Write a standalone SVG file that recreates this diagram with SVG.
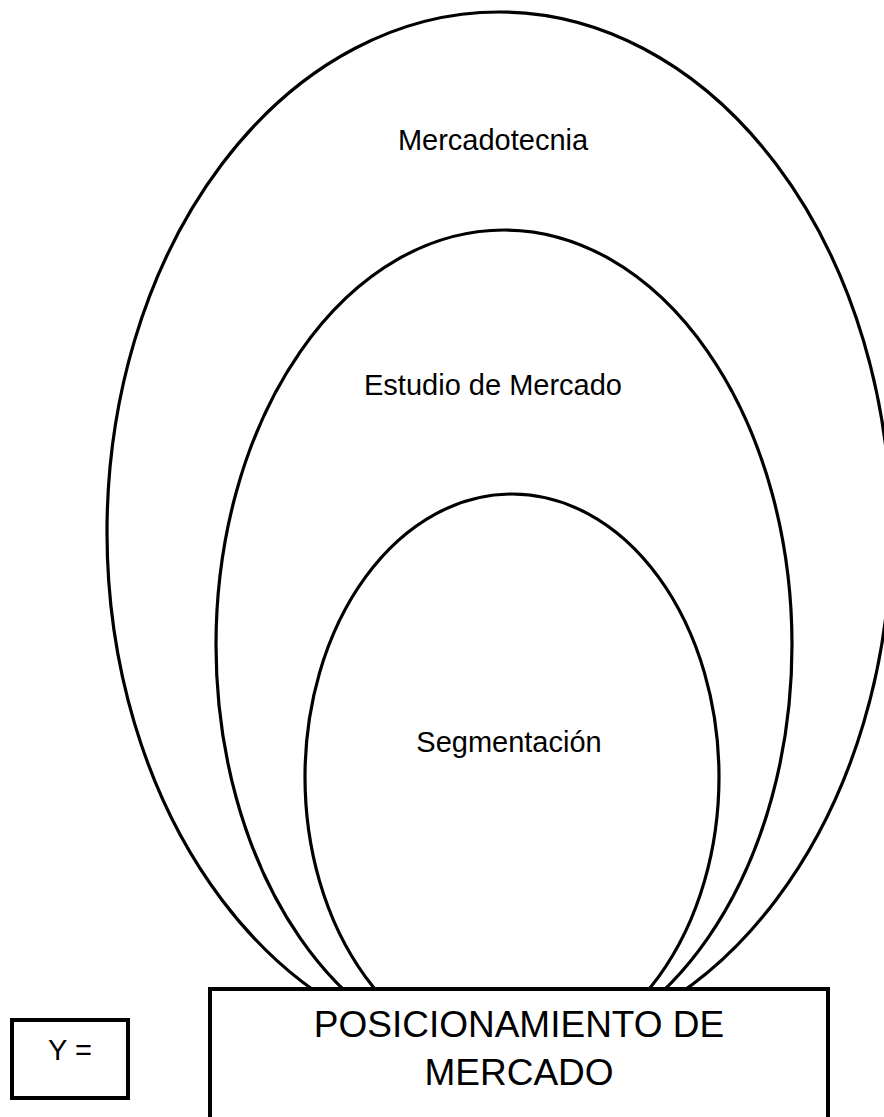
<svg xmlns="http://www.w3.org/2000/svg" width="884" height="1117" viewBox="0 0 884 1117">
  <style>
    .ring { fill: none; stroke: #000; stroke-width: 3.2; }
    .box { fill: #fff; stroke: #000; stroke-width: 4; }
    .lbl { font-family: "Liberation Sans", Arial, sans-serif; font-size: 29px; fill: #000; text-anchor: middle; }
    .big { font-family: "Liberation Sans", Arial, sans-serif; font-size: 37px; fill: #000; text-anchor: middle; }
  </style>
  <rect width="884" height="1117" fill="#fff"/>
  <g id="mercadotecnia">
    <ellipse class="ring" cx="499" cy="532" rx="392" ry="520"/>
    <text class="lbl" x="493" y="150">Mercadotecnia</text>
  </g>
  <g id="estudio-de-mercado">
    <ellipse class="ring" cx="504" cy="645" rx="288" ry="415"/>
    <text class="lbl" x="493" y="395">Estudio de Mercado</text>
  </g>
  <g id="segmentacion">
    <ellipse class="ring" cx="512" cy="777" rx="207" ry="283"/>
    <text class="lbl" x="509" y="752">Segmentación</text>
  </g>
  <g id="posicionamiento">
    <rect class="box" x="210" y="989" width="618" height="160"/>
    <text class="big" x="519" y="1037">POSICIONAMIENTO DE</text>
    <text class="big" x="519" y="1085">MERCADO</text>
  </g>
  <g id="y-igual">
    <rect class="box" x="12" y="1020" width="116" height="78"/>
    <text class="lbl" x="70" y="1060">Y =</text>
  </g>
</svg>
